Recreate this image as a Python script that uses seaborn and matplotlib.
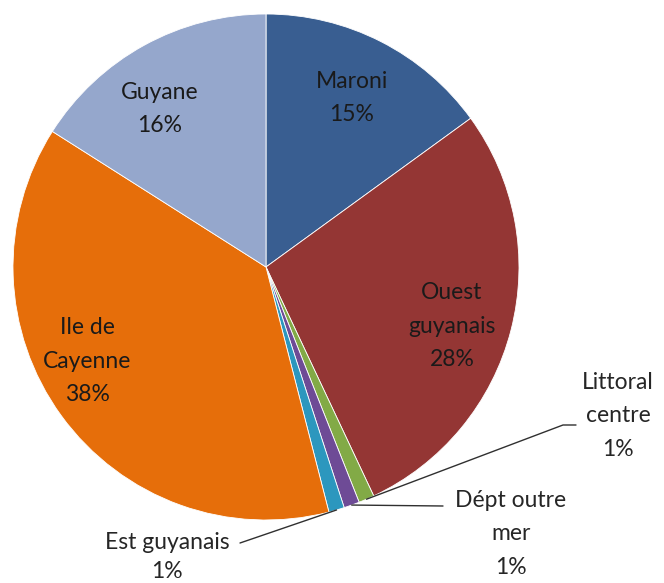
import numpy as np
import matplotlib
matplotlib.use("Agg")
import matplotlib.pyplot as plt
import seaborn as sns

# ---- data ----
categories = ["Maroni", "Ouest guyanais", "Littoral centre", "Dépt outre mer",
              "Est guyanais", "Ile de Cayenne", "Guyane"]
values = [15, 28, 1, 1, 1, 38, 16]
label_texts = ["Maroni\n15%", "Ouest\nguyanais\n28%", "Littoral\ncentre\n1%",
               "Dépt outre\nmer\n1%", "Est guyanais\n1%", "Ile de\nCayenne\n38%",
               "Guyane\n16%"]
colors = ["#395E91", "#943634", "#82AA46", "#6E4B96", "#2C97BE", "#E66E0A", "#95A7CC"]

sns.set_theme(style="white")
plt.rcParams['font.family'] = ['Lato', 'DejaVu Sans']

W, H = 664, 583
CX, CY, R = 266, 267, 253


def px(x, y):
    return ((x - CX) / R, (CY - y) / R)


fig = plt.figure(figsize=(W / 100, H / 100), dpi=100)
ax = fig.add_axes([0, 0, 1, 1])
wedges, _ = ax.pie(values, colors=sns.color_palette(colors), startangle=90,
                   counterclock=False, radius=1,
                   wedgeprops=dict(edgecolor="white", linewidth=0.6))
ax.set_xlim(px(0, 0)[0], px(W, 0)[0])
ax.set_ylim(px(0, H)[1], px(0, 0)[1])
ax.set_aspect("equal")
ax.axis("off")


def edge_point(w):
    a = np.deg2rad((w.theta1 + w.theta2) / 2)
    return np.cos(a), np.sin(a)


fs = 16.5
ls = 1.72
inside = {0: (352, 98), 1: (452, 326), 5: (87, 361), 6: (160, 109)}
for i, (x, y) in inside.items():
    ax.text(*px(x, y), label_texts[i], ha="center", va="center", fontsize=fs,
            color="#1a1a1a", linespacing=ls)

# outside labels
out_col = "#262626"
ax.text(*px(618, 416), label_texts[2], ha="center", va="center", fontsize=fs,
        color=out_col, linespacing=ls)
ax.text(*px(511, 534), label_texts[3], ha="center", va="center", fontsize=fs,
        color=out_col, linespacing=ls)
ax.text(*px(167, 557), label_texts[4], ha="center", va="center", fontsize=fs,
        color=out_col, linespacing=1.5)

# leader lines
lc = "#303030"
p = edge_point(wedges[2])
a, b = px(563, 425), px(576, 425)
ax.plot([p[0], a[0], b[0]], [p[1], a[1], b[1]], color=lc, lw=1)
p = edge_point(wedges[3])
a = px(443, 506)
ax.plot([p[0], a[0]], [p[1], a[1]], color=lc, lw=1)
p = edge_point(wedges[4])
a = px(240, 543)
ax.plot([p[0], a[0]], [p[1], a[1]], color=lc, lw=1)

fig.savefig("out.png", dpi=100)
